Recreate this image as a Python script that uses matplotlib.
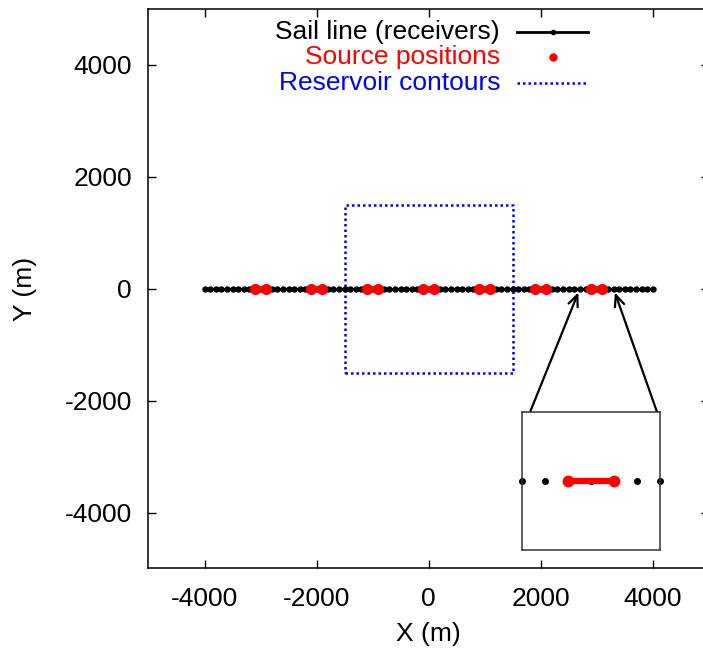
import matplotlib
matplotlib.use("Agg")
from matplotlib import pyplot as plt
from matplotlib.lines import Line2D

# receivers along the sail line (m)
receiver_x = list(range(-4000, 4001, 100))
receiver_y = [0] * len(receiver_x)

# source clusters: centre positions and half-span of each cluster (m)
source_centres = [-3000, -2000, -1000, 0, 1000, 2000, 3000]
source_half_span = 100

# reservoir contour (square outline)
reservoir_x = [-1500, 1500, 1500, -1500, -1500]
reservoir_y = [-1500, -1500, 1500, 1500, -1500]

# zoomed part of the line shown in the inset
inset_xlim = [2700, 3300]

plt.rcParams['font.family'] = ['Liberation Sans', 'DejaVu Sans']
plt.rcParams['axes.unicode_minus'] = False
fs = 19

fig = plt.figure(figsize=(7.03, 6.56), dpi=100)
ax = fig.add_axes([0.2112, 0.1334, 0.797, 0.8533])

ax.plot(reservoir_x, reservoir_y, color="#0000ff", lw=1.8, ls=(0, (1, 1.2)))
ax.plot(receiver_x, receiver_y, color="black", lw=2.2, marker="o", ms=3.6)
for c in source_centres:
    ax.plot([c - source_half_span, c + source_half_span], [0, 0], color="red",
            lw=3, marker="o", ms=7, markevery=[0, 1])

ax.set_xlim(-5000, 5000)
ax.set_ylim(-5000, 5000)
ax.set_xticks([-4000, -2000, 0, 2000, 4000])
ax.set_yticks([-4000, -2000, 0, 2000, 4000])
ax.tick_params(direction="in", length=6, width=1, top=True, right=True,
               labelsize=fs)
ax.tick_params(axis="x", pad=13)
ax.tick_params(axis="y", pad=12)
for s in ax.spines.values():
    s.set_linewidth(1.1)
ax.set_xlabel("X (m)", fontsize=fs, labelpad=8)
ax.set_ylabel("Y (m)", fontsize=fs, labelpad=20)

# legend, gnuplot style: right-aligned text, sample to the right
rows = [0.958, 0.914, 0.867]
labels = ["Sail line (receivers)", "Source positions", "Reservoir contours"]
colors = ["black", "red", "#0000ff"]
for y, lab, col in zip(rows, labels, colors):
    ax.text(0.6275, y, lab, color=col, fontsize=fs, ha="right", va="center",
            transform=ax.transAxes)
ax.add_line(Line2D([0.658, 0.785], [rows[0]] * 2, color="black", lw=2,
                   transform=ax.transAxes))
ax.add_line(Line2D([0.7215], [rows[0]], color="black", marker="o", ms=3,
                   transform=ax.transAxes))
ax.add_line(Line2D([0.7215], [rows[1]], color="red", marker="o", ms=5,
                   transform=ax.transAxes))
ax.add_line(Line2D([0.658, 0.785], [rows[2]] * 2, color="#0000ff", lw=1.8,
                   ls=(0, (1, 1.2)), transform=ax.transAxes))

# arrows from inset to the zoomed part of the line
for tip, tail in [((inset_xlim[0], 0), (1810, -2206)),
                  ((inset_xlim[1], 0), (4077, -2206))]:
    ax.annotate("", xy=tip, xytext=tail,
                arrowprops=dict(arrowstyle="->,head_length=0.8,head_width=0.35",
                                color="black", lw=1.6, shrinkA=0, shrinkB=3))

# inset: only the receivers inside the zoomed range, edge ones drawn whole
axin = fig.add_axes([0.7425, 0.162, 0.1959, 0.210])
in_rx = [x for x in receiver_x if inset_xlim[0] <= x <= inset_xlim[1]]
axin.plot(in_rx, [0] * len(in_rx), color="black", ls="none", marker="o",
          ms=4, clip_on=False, zorder=2)
for c in source_centres:
    axin.plot([c - source_half_span, c + source_half_span], [0, 0], color="red",
              lw=4.5, marker="o", ms=7.5, markevery=[0, 1], zorder=3)
axin.set_xlim(inset_xlim)
axin.set_ylim(-300, 300)
axin.set_xticks([])
axin.set_yticks([])
for s in axin.spines.values():
    s.set_linewidth(1.1)
    s.set_color("#333333")

fig.savefig("out.png", dpi=100)
